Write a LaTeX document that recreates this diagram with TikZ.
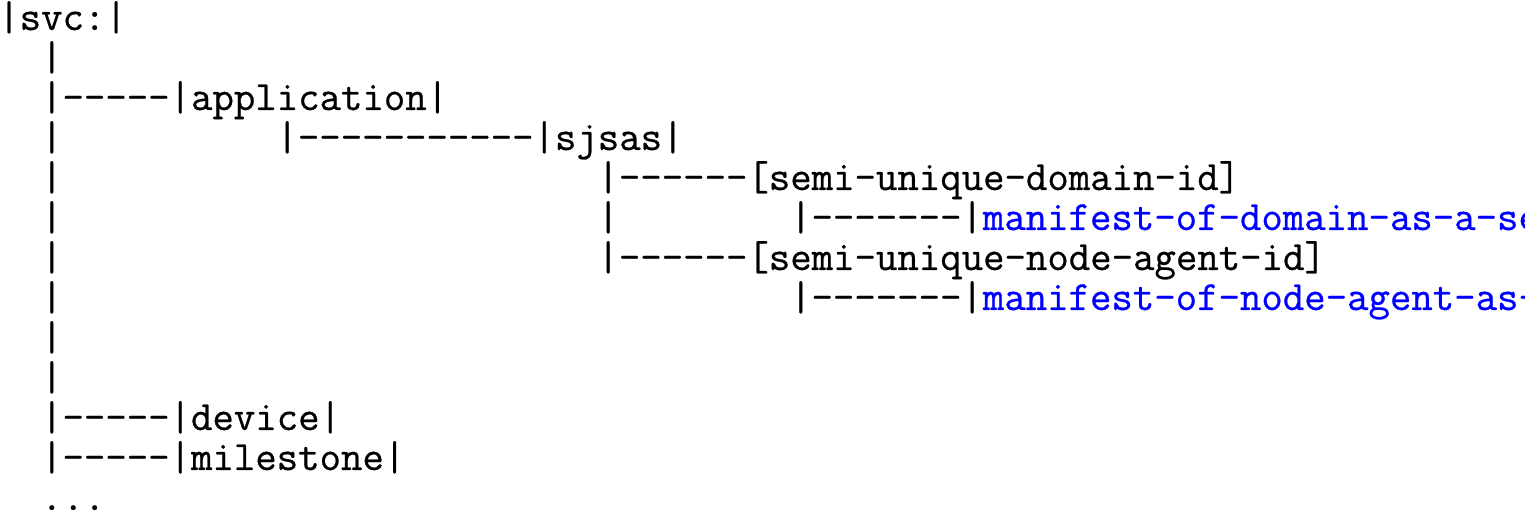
\documentclass[tikz,border=0pt]{standalone}
\usepackage{xcolor}
\usepackage{tikz}
\tikzset{
    tree/.style={font=\ttfamily\fontsize{20.8}{20}\selectfont, % 目录树文字（等宽）
        inner sep=0pt, outer sep=0pt, anchor=base west,
        % 字形描边加粗一点
        execute at begin node={\special{pdf:literal direct 2 Tr 0.12 w}},
        execute at end node={\special{pdf:literal direct 0 Tr}}},
    leaf/.style={tree, text=blue} % 末端的链接
}

\begin{document}
\begin{tikzpicture}[x=10.7pt, y=-20pt]
    \useasboundingbox (0.08,-0.75) rectangle (71.95,12.2);
    \begin{scope}
        \clip (0,-1) rectangle (71.34,13);
        \node[tree] (svc) at (0,0) {|svc:|};
        \foreach \r in {1,3,4,5,6,7,8,9}
            \node[tree] (trunk\r) at (2,\r) {|};
        \node[tree] (app) at (2,2) {|-----|application|};
        \node[tree] (sjsas) at (13,3) {|-----------|sjsas|};
        \node[tree] (domain) at (28,4) {|------[semi-unique-domain-id]};
        \node[tree] (dbar) at (28,5) {|};
        \node[tree] (dlink) at (37,5) {|-------|};
        \node[leaf] (dman) at (dlink.base east) {manifest-of-domain-as-a-se};
        \node[tree] (agent) at (28,6) {|------[semi-unique-node-agent-id]};
        \node[tree] (alink) at (37,7) {|-------|};
        \node[leaf] (aman) at (alink.base east) {manifest-of-node-agent-as-};
        \node[tree] (device) at (2,10) {|-----|device|};
        \node[tree] (mile) at (2,11) {|-----|milestone|};
        \node[tree] (more) at (2,12) {...};
    \end{scope}
\end{tikzpicture}
\end{document}
